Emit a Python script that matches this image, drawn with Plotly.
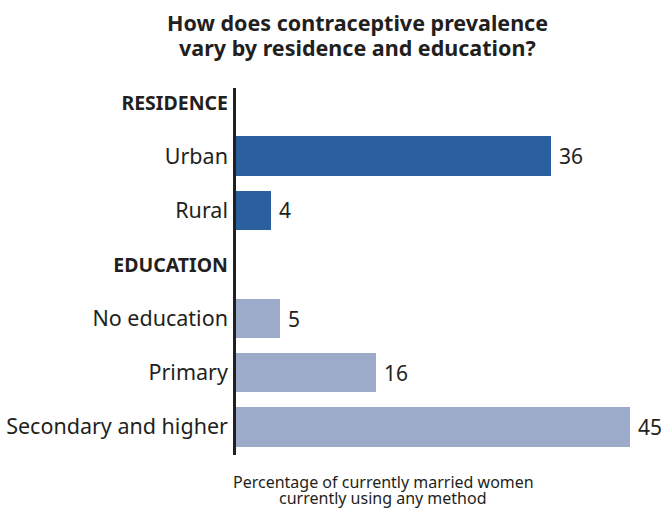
import plotly.graph_objects as go

# Row layout (top to bottom)
row_labels = ["<b><span style='font-size:19.5px'>RESIDENCE</span></b>", "Urban", "Rural",
              "<b><span style='font-size:19.5px'>EDUCATION</span></b>",
              "No education", "Primary", "Secondary and higher"]
row_pos = [0, 1, 2, 3, 4, 5, 6]

residence_cats = ["Urban", "Rural"]
residence_pos = [1, 2]
residence_vals = [36, 4]

education_cats = ["No education", "Primary", "Secondary and higher"]
education_pos = [4, 5, 6]
education_vals = [5, 16, 45]

title_lines = ["How does contraceptive prevalence", "vary by residence and education?"]
caption_lines = ["Percentage of currently married women", "currently using any method"]

FONT = "Noto Sans"
DARK = "#231F20"

# plot-area geometry in pixels
W, H = 661, 508
L, R, T, B = 236, 5, 88, 53
PW, PH = W - L - R, H - T - B


def px_x(x):
    return (x - L) / PW


def px_y(y):
    return (H - B - y) / PH


fig = go.Figure()
fig.add_trace(go.Bar(
    x=residence_vals, y=residence_pos, orientation="h",
    marker=dict(color="#2A5FA0", line_width=0), width=0.73,
    hovertext=residence_cats, name="Residence",
))
fig.add_trace(go.Bar(
    x=education_vals, y=education_pos, orientation="h",
    marker=dict(color="#9DABCB", line_width=0), width=0.73,
    hovertext=education_cats, name="Education",
))

annotations = []
# value labels just past the end of each bar
for vals, pos in ((residence_vals, residence_pos), (education_vals, education_pos)):
    for v, p in zip(vals, pos):
        annotations.append(dict(
            x=v, y=p, xref="x", yref="y", text=str(v), showarrow=False,
            xanchor="left", yanchor="middle", xshift=6,
            font=dict(family=FONT, size=21, color=DARK),
        ))

# two-line title, tightly spaced
for line, yc in zip(title_lines, (22, 48)):
    annotations.append(dict(
        text=f"<b>{line}</b>", x=px_x(357), y=px_y(yc), xref="paper", yref="paper",
        showarrow=False, xanchor="center", yanchor="middle",
        font=dict(family=FONT, size=21.5, color=DARK),
    ))

# axis caption under the bars
for line, yc in zip(caption_lines, (482, 498)):
    annotations.append(dict(
        text=line, x=px_x(383), y=px_y(yc), xref="paper", yref="paper",
        showarrow=False, xanchor="center", yanchor="middle",
        font=dict(family=FONT, size=16, color=DARK),
    ))

fig.update_layout(
    width=W, height=H,
    margin=dict(l=L, r=R, t=T, b=B),
    paper_bgcolor="white", plot_bgcolor="white",
    showlegend=False, bargap=0,
    xaxis=dict(range=[0, 48], visible=False, showgrid=False, zeroline=False),
    yaxis=dict(
        range=[6.52, -0.26], tickvals=row_pos, ticktext=row_labels,
        showgrid=False, zeroline=False, showline=True,
        linecolor=DARK, linewidth=2.5, ticks="", ticklabelstandoff=1,
        tickfont=dict(family=FONT, size=21.5, color=DARK),
    ),
    annotations=annotations,
)

fig.write_html("out.html")
